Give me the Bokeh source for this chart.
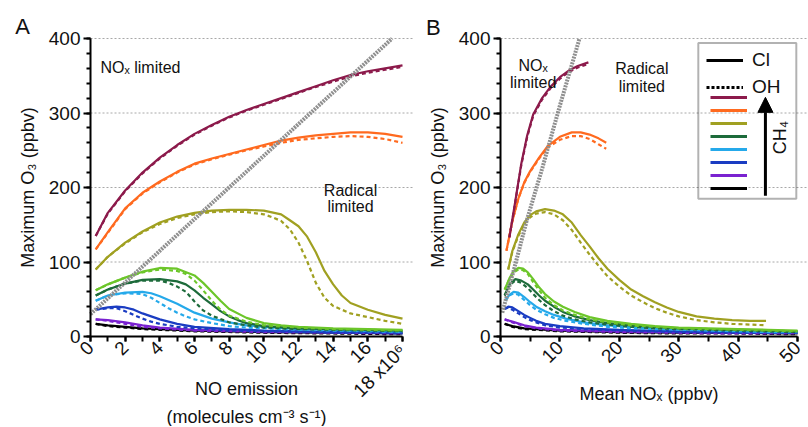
import math
from bokeh.plotting import figure
from bokeh.models import (Range1d, SingleIntervalTicker, Label, Legend, LegendItem,
                          BoxAnnotation, Arrow, NormalHead)
from bokeh.layouts import row
from bokeh.embed import file_html
from bokeh.resources import INLINE
from bokeh.core.properties import value

FONT = "Liberation Sans"
NAN = float("nan")

# ---------------- Panel A: NO emission (x 1e6 molecules cm-3 s-1) ----------------
A_X = [0.3, 1, 2, 3, 4, 5, 6, 7, 8, 9, 10, 11, 12, 13, 14, 15, 16, 17, 18]
A_MAROON_CL = [135, 166, 196, 220, 240, 257, 272, 284, 295, 304, 312, 320, 328, 336, 344, 351, 356, 360, 364]
A_MAROON_OH = [135, 165, 195, 219, 239, 256, 271, 283, 294, 303, 311, 319, 327, 335, 342, 349, 354, 358, 362]
A_ORANGE_CL = [117, 140, 172, 193, 208, 221, 232, 239, 245, 251, 257, 263, 267, 270, 272, 274, 274, 272, 268]
A_ORANGE_OH = [117, 139, 171, 192, 207, 220, 231, 238, 244, 250, 255, 260, 264, 266, 268, 269, 268, 265, 260]

A_OLIVE_CL_X = [0.3, 1, 2, 3, 4, 5, 6, 7, 8, 9, 10, 11, 11.5, 12, 12.5, 13, 13.5, 14, 14.5, 15, 16, 17, 18]
A_OLIVE_CL = [90, 107, 126, 141, 153, 161, 166, 169, 170, 170, 169, 164, 156, 148, 134, 113, 88, 70, 55, 45, 36, 29, 24]
A_OLIVE_OH_X = [0.3, 1, 2, 3, 4, 5, 6, 7, 8, 9, 10, 10.5, 11, 11.5, 12, 12.5, 13, 13.5, 14, 15, 16, 17, 18]
A_OLIVE_OH = [90, 107, 125, 140, 151, 159, 164, 167, 168, 167, 164, 160, 155, 144, 126, 101, 72, 52, 41, 31, 26, 21, 17]

A_LGREEN_CL_X = [0.3, 1, 2, 3, 4, 5, 6, 6.5, 7, 7.5, 8, 9, 10, 11, 12, 14, 16, 18]
A_LGREEN_CL = [62, 70, 79, 87, 92, 91, 82, 72, 60, 48, 37, 25, 18, 15, 13, 11, 10, 9]
A_LGREEN_OH_X = [0.3, 1, 2, 3, 4, 5, 5.5, 6, 6.5, 7, 7.5, 8, 9, 10, 12, 14, 16, 18]
A_LGREEN_OH = [62, 70, 79, 86, 90, 88, 84, 75, 62, 48, 36, 28, 20, 15, 12, 10, 9, 8]

A_DGREEN_CL_X = [0.3, 1, 2, 3, 4, 5, 5.5, 6, 6.5, 7, 7.5, 8, 8.5, 9, 10, 12, 14, 16, 18]
A_DGREEN_CL = [55, 63, 71, 76, 77, 74, 70, 62, 52, 43, 34, 27, 22, 18, 14, 11, 10, 9, 8]
A_DGREEN_OH_X = [0.3, 1, 2, 3, 4, 4.5, 5, 5.5, 6, 6.5, 7, 8, 9, 10, 12, 14, 16, 18]
A_DGREEN_OH = [55, 63, 71, 75, 75, 72, 67, 60, 47, 35, 28, 19, 15, 12, 10, 9, 8, 7]

A_LBLUE_X = [0.3, 1, 2, 3, 3.5, 4, 4.5, 5, 5.5, 6, 7, 8, 9, 10, 12, 14, 16, 18]
A_LBLUE_CL = [48, 55, 59, 60, 58, 54, 49, 44, 38, 32, 24, 19, 15, 13, 10, 9, 8, 7]
A_LBLUE_OH = [48, 55, 58, 57, 52, 45, 38, 32, 27, 23, 18, 14, 12, 11, 9, 8, 7, 6]

A_BLUE_X = [0.3, 1, 1.5, 2, 2.5, 3, 3.5, 4, 5, 6, 8, 10, 12, 14, 16, 18]
A_BLUE_CL = [36, 39, 40, 39, 36, 31, 27, 23, 17, 13, 10, 8, 7, 6, 6, 5]
A_BLUE_OH = [36, 38, 38, 34, 29, 24, 20, 17, 13, 11, 8, 7, 6, 5, 5, 4]

A_LOW_X = [0.3, 1, 2, 3, 4, 6, 10, 14, 18]
A_PURPLE_CL = [23, 22, 19, 15, 12, 9, 7, 6, 5]
A_PURPLE_OH = [23, 21, 17, 13, 11, 8, 6, 5, 4]
A_BLACK_CL = [17, 15, 13, 11, 10, 8, 6, 5, 4]
A_BLACK_OH = [17, 14, 12, 10, 9, 7, 5, 4, 3]

A_REF_X = [0, 17.4]
A_REF_Y = [30, 400]

# ---------------- Panel B: mean NOx (ppbv) ----------------
B_MAROON_CL_X = [1.5, 2.5, 3.5, 4.5, 5.5, 7, 8.5, 10, 11.5, 13, 14.8]
B_MAROON_CL = [133, 182, 232, 270, 298, 320, 336, 348, 357, 363, 368]
B_MAROON_OH_X = [1.5, 2.5, 3.5, 4.5, 5.5, 7, 8.5, 10, 11.5, 13, 14.5]
B_MAROON_OH = [133, 181, 230, 268, 296, 318, 334, 346, 355, 361, 365]

B_ORANGE_X = [1.0, 2, 3, 4, 5, 6.5, 8, 10, 12, 13.5, 15, 16.5, 17.8]
B_ORANGE_CL = [115, 155, 185, 207, 222, 240, 256, 268, 274, 274, 271, 266, 260]
B_ORANGE_OH = [115, 155, 185, 206, 221, 239, 254, 264, 269, 269, 265, 258, 252]

B_OLIVE_X = [1.3, 2, 3, 4, 5, 6, 7.5, 9, 10.5, 12, 13.5, 15, 16.5, 18, 20, 22, 24, 26, 28, 30, 33, 36, 39, 42, 44.7]
B_OLIVE_CL = [90, 115, 137, 153, 163, 168, 171, 169, 164, 153, 136, 121, 105, 91, 76, 63, 54, 46, 39, 33, 27, 24, 22, 21, 21]
B_OLIVE_OH = [90, 114, 135, 151, 160, 165, 167, 164, 156, 143, 126, 110, 95, 81, 67, 55, 46, 38, 32, 27, 22, 19, 17, 16, 15]

B_LGREEN_X = [0.7, 1.5, 2.2, 3, 3.8, 4.6, 5.5, 6.5, 7.5, 9, 10.5, 12.5, 15, 18, 22, 26, 30, 35, 40, 45, 50]
B_LGREEN_CL = [63, 78, 88, 92, 91, 86, 77, 66, 57, 47, 40, 33, 26, 21, 17, 14, 12, 11, 10, 9, 8]
B_LGREEN_OH = [63, 77, 86, 90, 89, 84, 73, 62, 52, 42, 35, 29, 23, 19, 15, 13, 11, 10, 9, 8, 7]

B_DGREEN_X = [0.7, 1.5, 2.5, 3.5, 4.6, 5.5, 6.5, 7.5, 9, 10.5, 12.5, 15, 18, 22, 26, 30, 35, 40, 45, 50]
B_DGREEN_CL = [55, 70, 77, 75, 70, 63, 55, 48, 40, 33, 27, 22, 18, 15, 13, 11, 10, 9, 8, 7]
B_DGREEN_OH = [55, 69, 75, 72, 65, 57, 49, 42, 34, 28, 23, 19, 16, 13, 11, 10, 9, 8, 7, 6]

B_LBLUE_X = [0.8, 1.5, 2.2, 3, 4, 5, 6, 7.5, 9, 11, 14, 18, 22, 26, 30, 35, 40, 45, 50]
B_LBLUE_CL = [48, 56, 60, 59, 53, 46, 40, 34, 29, 24, 19, 15, 13, 11, 10, 9, 8, 7, 7]
B_LBLUE_OH = [48, 55, 58, 56, 49, 42, 36, 30, 25, 21, 17, 13, 11, 10, 9, 8, 7, 6, 6]

B_BLUE_X = [0.7, 1.3, 2, 3, 4, 5, 6, 7.5, 10, 14, 20, 30, 40, 50]
B_BLUE_CL = [37, 40, 39, 34, 29, 25, 21, 17, 14, 11, 9, 7, 6, 6]
B_BLUE_OH = [37, 39, 36, 31, 26, 22, 19, 15, 12, 10, 8, 6, 5, 5]

B_LOW_X = [0.7, 2, 4, 6, 10, 20, 30, 40, 50]
B_PURPLE_CL = [23, 20, 15, 12, 9, 7, 6, 5, 5]
B_PURPLE_OH = [23, 19, 14, 11, 8, 6, 5, 4, 4]
B_BLACK_CL = [17, 14, 11, 10, 8, 6, 5, 5, 4]
B_BLACK_OH = [17, 13, 10, 9, 7, 5, 4, 4, 3]

B_REF_X = [0.3, 2.5, 4.5, 7, 10, 13.3]
B_REF_Y = [32, 97, 158, 225, 310, 400]

GRID_Y = [100, 200, 300, 400]

MAROON, ORANGE, OLIVE = "#8C1A4B", "#FF6A1F", "#A0A021"
LGREEN, DGREEN, LBLUE = "#6CC62A", "#1D6B3B", "#25A9EA"
BLUE, PURPLE, BLACK = "#1A3CC2", "#7A22D0", "#000000"
LEGEND_COLORS = [MAROON, ORANGE, OLIVE, DGREEN, LBLUE, BLUE, PURPLE, BLACK]

A_SERIES = [
    (BLACK, A_LOW_X, A_BLACK_CL, A_LOW_X, A_BLACK_OH),
    (PURPLE, A_LOW_X, A_PURPLE_CL, A_LOW_X, A_PURPLE_OH),
    (BLUE, A_BLUE_X, A_BLUE_CL, A_BLUE_X, A_BLUE_OH),
    (LBLUE, A_LBLUE_X, A_LBLUE_CL, A_LBLUE_X, A_LBLUE_OH),
    (DGREEN, A_DGREEN_CL_X, A_DGREEN_CL, A_DGREEN_OH_X, A_DGREEN_OH),
    (LGREEN, A_LGREEN_CL_X, A_LGREEN_CL, A_LGREEN_OH_X, A_LGREEN_OH),
    (OLIVE, A_OLIVE_CL_X, A_OLIVE_CL, A_OLIVE_OH_X, A_OLIVE_OH),
    (ORANGE, A_X, A_ORANGE_CL, A_X, A_ORANGE_OH),
    (MAROON, A_X, A_MAROON_CL, A_X, A_MAROON_OH),
]
B_SERIES = [
    (BLACK, B_LOW_X, B_BLACK_CL, B_LOW_X, B_BLACK_OH),
    (PURPLE, B_LOW_X, B_PURPLE_CL, B_LOW_X, B_PURPLE_OH),
    (BLUE, B_BLUE_X, B_BLUE_CL, B_BLUE_X, B_BLUE_OH),
    (LBLUE, B_LBLUE_X, B_LBLUE_CL, B_LBLUE_X, B_LBLUE_OH),
    (DGREEN, B_DGREEN_X, B_DGREEN_CL, B_DGREEN_X, B_DGREEN_OH),
    (LGREEN, B_LGREEN_X, B_LGREEN_CL, B_LGREEN_X, B_LGREEN_OH),
    (OLIVE, B_OLIVE_X, B_OLIVE_CL, B_OLIVE_X, B_OLIVE_OH),
    (ORANGE, B_ORANGE_X, B_ORANGE_CL, B_ORANGE_X, B_ORANGE_OH),
    (MAROON, B_MAROON_CL_X, B_MAROON_CL, B_MAROON_OH_X, B_MAROON_OH),
]

# ---------------- layout (pixels) ----------------
H = 426
Y_TOP_PX = 38          # pixel row of y = 400
Y_ZERO_PX = 336        # pixel row of y = 0
PY = (Y_ZERO_PX - Y_TOP_PX) / 400.0
Y_RANGE = (-(H - Y_ZERO_PX) / PY, Y_ZERO_PX / PY)
TICK_FS = "19px"
LABEL_FS = "18px"


def make_panel(width, axis_px, xmax, plot_px, xint, xlabel, label_standoff):
    """Frame covers the whole canvas; axes are pinned at the data origin."""
    px = plot_px / xmax
    x_range = Range1d(-axis_px / px, (width - axis_px) / px)
    p = figure(width=width, height=H, x_range=x_range, y_range=Range1d(*Y_RANGE),
               output_backend="svg", toolbar_location=None,
               min_border=0, min_border_left=0, min_border_right=0,
               min_border_top=0, min_border_bottom=0)
    p.outline_line_color = None
    p.background_fill_color = "white"
    p.border_fill_color = "white"
    p.xgrid.visible = False
    p.ygrid.visible = False
    # horizontal dotted grid lines at the y ticks, from the y axis to the panel edge
    p.segment(x0=0, x1=x_range.end, y0=GRID_Y, y1=GRID_Y,
              line_color="#a8a8a8", line_dash="2 2", line_width=1)

    p.xaxis.ticker = SingleIntervalTicker(interval=xint, num_minor_ticks=2)
    p.yaxis.ticker = SingleIntervalTicker(interval=100, num_minor_ticks=5)
    for ax in (p.xaxis, p.yaxis):
        ax.axis_line_width = 2
        ax.axis_line_color = "black"
        ax.major_tick_line_width = 2
        ax.minor_tick_line_width = 2
        ax.major_tick_line_color = "black"
        ax.minor_tick_line_color = "black"
        ax.major_tick_in = 0
        ax.minor_tick_in = 0
        ax.major_label_text_font = FONT
        ax.major_label_text_font_size = TICK_FS
        ax.major_label_text_color = "#111111"
        ax.axis_label_text_font = FONT
        ax.axis_label_text_font_size = LABEL_FS
        ax.axis_label_text_font_style = "normal"
        ax.axis_label_text_color = "#111111"
        ax.major_label_standoff = 3
        ax.fixed_location = 0
    p.xaxis.bounds = (0, xmax)
    p.yaxis.bounds = (0, 400)
    p.xaxis.major_tick_out = 5
    p.xaxis.minor_tick_out = 5
    p.yaxis.major_tick_out = 7
    p.yaxis.minor_tick_out = 4
    p.xaxis.major_label_orientation = math.pi / 4
    p.xaxis.axis_label = xlabel
    p.xaxis.axis_label_standoff = label_standoff
    p.xaxis.axis_label_text_line_height = 1.4
    p.yaxis.axis_label = "Maximum O\u2083 (ppbv)"
    p.yaxis.axis_label_standoff = 8
    return p


def draw_series(p, series, ref_x, ref_y):
    for color, xc, yc, xo, yo in series:
        p.line(xc, yc, line_color=color, line_width=2.2)
        p.line(xo, yo, line_color=color, line_width=2.2, line_dash="4 3")
    p.line(ref_x, ref_y, line_color="#8f8f8f", line_width=4, line_dash="2 1")


def txt(p, x, y, text, size="16px", align="left", baseline="alphabetic", angle=0):
    p.add_layout(Label(x=x, y=y, text=text, text_font=FONT, text_font_size=size,
                       text_align=align, text_baseline=baseline, angle=angle,
                       text_color="#111111"))


# ---------- Panel A ----------
pa = make_panel(414, 90, 18, 312, 2, "NO emission\n(molecules cm\u207b\u00b3 s\u207b\u00b9)", 7)
pa.xaxis.major_label_overrides = {18: ""}
draw_series(pa, A_SERIES, A_REF_X, A_REF_Y)
txt(pa, -3.92, 416, "A", size="22px", align="center", baseline="middle")
txt(pa, 0.58, 361, "NO\u2093 limited")
txt(pa, 15.0, 196, "Radical", align="center")
txt(pa, 15.0, 174, "limited", align="center")
txt(pa, 18, -15, "18 x10\u2076", size=TICK_FS, align="right", baseline="middle", angle=math.pi / 4)

# ---------- Panel B ----------
B_PLOT_PX = 297
pb = make_panel(393, 86, 50, B_PLOT_PX, 10, "Mean NO\u2093 (ppbv)", 12)
draw_series(pb, B_SERIES, B_REF_X, B_REF_Y)
txt(pb, -11.3, 415, "B", size="22px", align="center", baseline="middle")
txt(pb, 5.5, 364, "NO\u2093", align="center")
txt(pb, 5.5, 341, "limited", align="center")
txt(pb, 23.8, 360, "Radical", align="center")
txt(pb, 23.8, 335, "limited", align="center")

# legend box, keys, CH4 arrow
BOX_L, BOX_R = 33.3, 49.8
pb.add_layout(BoxAnnotation(left=BOX_L, right=BOX_R, bottom=185, top=394,
                            fill_color=None, fill_alpha=0, line_color="black", line_width=2))
box_left_px = 86 + BOX_L * B_PLOT_PX / 50.0      # legend box left edge, canvas px of panel B
r_cl = pb.line([NAN], [NAN], line_color="black", line_width=3)
r_oh = pb.line([NAN], [NAN], line_color="black", line_width=3, line_dash="3 2")
leg1 = Legend(items=[LegendItem(label=value("Cl"), renderers=[r_cl]),
                     LegendItem(label=value("OH"), renderers=[r_oh])],
              location=(int(box_left_px + 9), 328), orientation="vertical", glyph_width=37,
              glyph_height=20, label_height=20, spacing=5, padding=0, margin=0,
              label_standoff=9, label_text_font=FONT, label_text_font_size="19px",
              label_text_color="#111111", border_line_color=None, background_fill_alpha=0)
color_items = []
for c in LEGEND_COLORS:
    rr = pb.line([NAN], [NAN], line_color=c, line_width=3)
    color_items.append(LegendItem(label=value(" "), renderers=[rr]))
leg2 = Legend(items=color_items, location=(int(box_left_px + 13), 233), orientation="vertical",
              glyph_width=37, glyph_height=10, label_height=10, spacing=3, padding=0,
              margin=0, label_text_font_size="8px", border_line_color=None,
              background_fill_alpha=0)
pb.add_layout(leg1)
pb.add_layout(leg2)
pb.add_layout(Arrow(end=NormalHead(size=15, fill_color="black", line_color="black"),
                    x_start=44.6, y_start=189, x_end=44.6, y_end=321,
                    line_color="black", line_width=3))
txt(pb, 47.0, 267, "CH\u2084", size="18px", align="center", baseline="middle", angle=math.pi / 2)

layout = row(pa, pb)
open("out.html", "w").write(file_html(layout, INLINE))
